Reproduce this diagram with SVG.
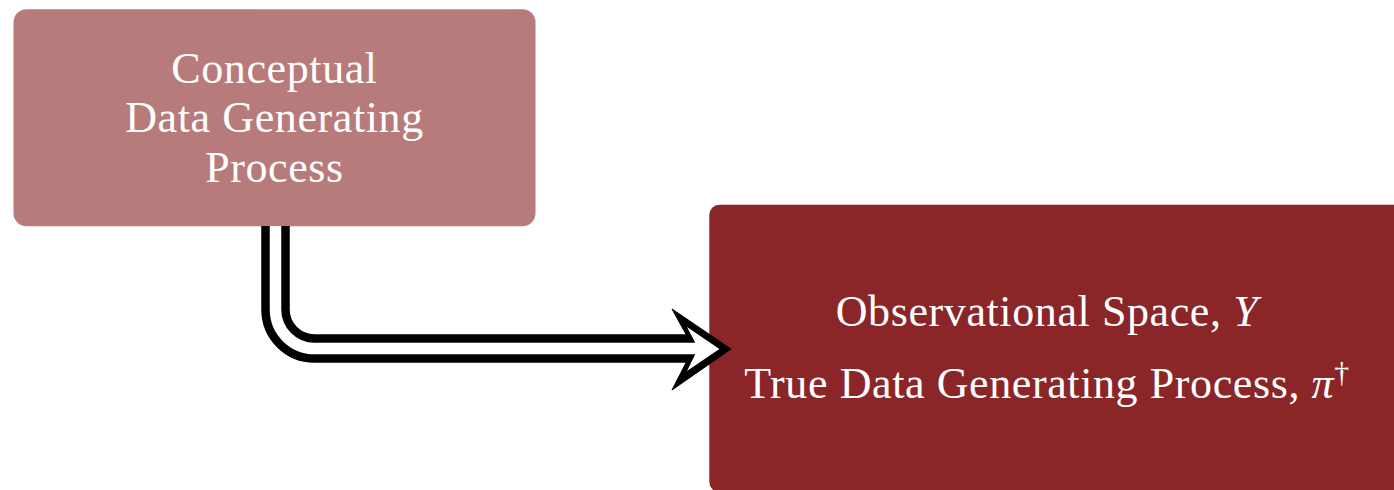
<svg xmlns="http://www.w3.org/2000/svg" width="1394" height="490" viewBox="0 0 1394 490">
<style>
.lbl{font-family:"Liberation Serif","Times New Roman",serif;font-size:44px;fill:#ffffff;text-anchor:middle;letter-spacing:0.6px}
.it{font-style:italic}
.sup{font-size:30px}
</style>
<rect width="1394" height="490" fill="#ffffff"/>
<g id="node-conceptual">
<rect x="13.5" y="9.3" width="522" height="217" rx="13" ry="13" fill="#B87B7B"/>
<text class="lbl" x="274.5" y="82.5">Conceptual</text>
<text class="lbl" x="274.5" y="132">Data Generating</text>
<text class="lbl" x="274.5" y="181.5">Process</text>
</g>
<g id="node-observational">
<rect x="709.3" y="204.7" width="695" height="287.3" rx="10" ry="10" fill="#8B2628"/>
<text class="lbl" x="1047" y="326">Observational Space, <tspan class="it">Y</tspan></text>
<text class="lbl" x="1047" y="398">True Data Generating Process, <tspan class="it">π</tspan><tspan class="sup" dy="-16">†</tspan></text>
</g>
<g id="connectors">
<path d="M275.5,226 V309.5 A39,39 0 0 0 314.5,348.5 H688" fill="none" stroke="#000000" stroke-width="28.5"/>
<polygon points="672,309 731,349 672,390 686,362.75 686,334.25" fill="#000000" stroke="#000000" stroke-width="1" stroke-linejoin="miter"/>
<path d="M275.5,226 V309.5 A39,39 0 0 0 314.5,348.5 H698" fill="none" stroke="#ffffff" stroke-width="11.5"/>
<polygon points="687,327 719.4,349 687,371 695,354.75 695,342.25" fill="#ffffff"/>
</g>
</svg>
